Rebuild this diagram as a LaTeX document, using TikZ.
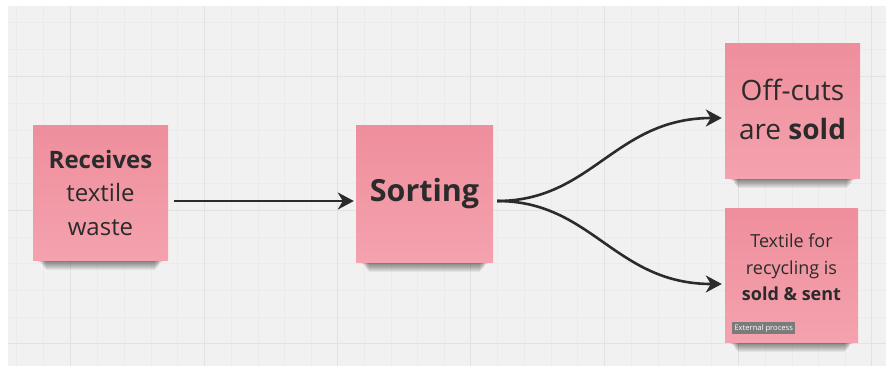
\documentclass[tikz,border=0pt]{standalone}
\usepackage{fontspec}
\setmainfont{Open Sans}
\usetikzlibrary{arrows.meta,calc}

\definecolor{boardbg}{HTML}{F1F1F1}
\definecolor{gridmajor}{HTML}{E2E2E2}
\definecolor{gridminor}{HTML}{EBEBEB}
\definecolor{stickytop}{HTML}{EF8E9C}
\definecolor{stickybot}{HTML}{F4A2AE}
\definecolor{inkdark}{HTML}{2B2B2B}
\definecolor{taggray}{HTML}{7B7B7B}

\tikzset{
  sticky/.style={rectangle, inner sep=0pt, align=center, text=inkdark,
    top color=stickytop, bottom color=stickybot, draw=none},
  flow/.style={draw=inkdark, line width=2.6pt,
    -{Stealth[length=16pt,width=17pt,inset=5pt]}},
  tag/.style={rectangle, fill=taggray, text=white, inner xsep=2.5pt,
    inner ysep=2pt, font=\fontsize{7.6}{8}\selectfont}
}

% soft shadow under a sticky note (x left, x right, y bottom)
\newcommand{\noteshadow}[3]{%
  \foreach \k in {0,...,9}{%
    \fill[black, opacity=0.06]
      ($(#1+5+\k*0.9,#3-4)$) rectangle ($(#2-5-\k*0.9,#3+1.5+\k*0.9)$);
  }%
}

\begin{document}
\begin{tikzpicture}[x=1pt,y=-1pt]
  \useasboundingbox (0,0) rectangle (886,373);
  \fill[white] (0,0) rectangle (886,373);
  \fill[boardbg] (8,6) rectangle (886,366);

  % board grid
  \foreach \gx in {16,43,97,124,151,177,231,258,284,311,364,391,417,444,497,524,551,577,631,658,684,711,765,792,818,845}
    \draw[gridminor, line width=0.5pt] (\gx,6) -- (\gx,366);
  \foreach \gy in {22,49,103,130,157,183,237,263,290,317}
    \draw[gridminor, line width=0.5pt] (8,\gy) -- (886,\gy);
  \foreach \gx in {70,204,337,470,604,738,871}
    \draw[gridmajor, line width=0.9pt] (\gx,6) -- (\gx,366);
  \foreach \gy in {76,210,343}
    \draw[gridmajor, line width=0.9pt] (8,\gy) -- (886,\gy);

  % shadows
  \noteshadow{33}{168}{260}
  \noteshadow{356}{493}{262}
  \noteshadow{725}{860}{178}
  \noteshadow{725}{858}{342}

  % sticky notes
  \node[sticky, minimum width=135pt, minimum height=135pt,
        font=\fontsize{24}{33.5}\selectfont] (rec) at (100.5,192.5)
    {\textbf{Receives}\\textile\\waste};
  \node[sticky, minimum width=137pt, minimum height=137pt,
        font=\fontsize{30.5}{35}\selectfont\bfseries] (sort) at (424.5,193.5)
    {Sorting};
  \node[sticky, minimum width=135pt, minimum height=135pt] (off) at (792.5,110.5) {};
  \node[font=\fontsize{28}{39}\selectfont, text=inkdark, align=center,
        inner sep=0pt] (offtxt) at ($(off.center)+(0,-1.5)$)
    {Off-cuts\\are \textbf{sold}};
  \node[sticky, minimum width=133pt, minimum height=134pt] (tex) at (791.5,275) {};
  \node[font=\fontsize{18}{26.5}\selectfont, text=inkdark, align=center,
        inner sep=0pt] (textxt) at ($(tex.center)+(0,-7.5)$)
    {Textile for\\recycling is\\\textbf{sold \& sent}};
  \node[tag, anchor=south west] (ext) at ($(tex.south west)+(7,-8)$)
    {External process};

  % connectors
  \coordinate (split) at ($(sort.east)+(4,7.5)$);
  \draw[flow, shorten <=6pt, shorten >=2pt]
    ($(rec.east)+(0,8.5)$) -- ($(sort.west)+(0,7.5)$);
  \draw[flow, shorten >=3pt]
    (split) .. controls ($(split)+(95,0)$) and ($(off.west)+(-110,7.5)$)
    .. ($(off.west)+(0,7.5)$);
  \draw[flow, shorten >=3pt]
    (split) .. controls ($(split)+(95,0)$) and ($(tex.west)+(-110,9)$)
    .. ($(tex.west)+(0,9)$);
\end{tikzpicture}
\end{document}
